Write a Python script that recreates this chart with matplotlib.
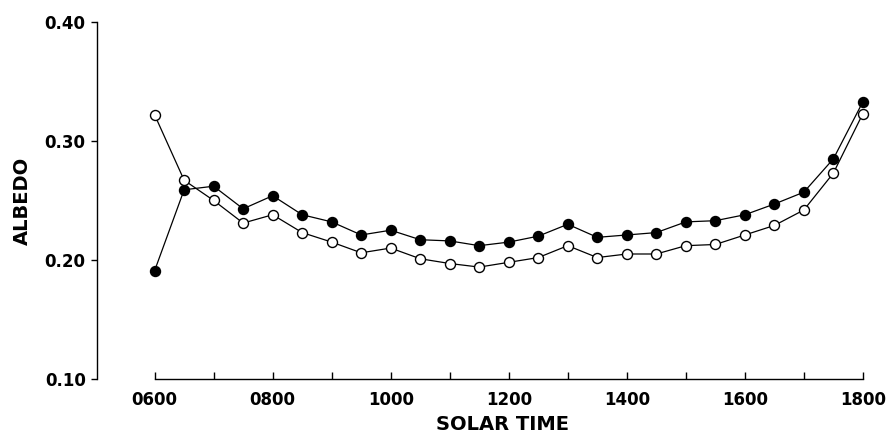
import matplotlib.pyplot as plt
import numpy as np
from matplotlib.ticker import FixedLocator, FuncFormatter

# half-hourly readings (decimal hours written as hhmm-like numbers)
solar_time = [600, 650, 700, 750, 800, 850, 900, 950, 1000, 1050, 1100, 1150, 1200,
              1250, 1300, 1350, 1400, 1450, 1500, 1550, 1600, 1650, 1700, 1750, 1800]
albedo_filled = [0.191, 0.259, 0.262, 0.243, 0.254, 0.238, 0.232, 0.221, 0.225,
                 0.217, 0.216, 0.212, 0.215, 0.220, 0.230, 0.219, 0.221, 0.223,
                 0.232, 0.233, 0.238, 0.247, 0.257, 0.285, 0.333]
albedo_open = [0.322, 0.267, 0.250, 0.231, 0.238, 0.223, 0.215, 0.206, 0.210,
               0.201, 0.197, 0.194, 0.198, 0.202, 0.212, 0.202, 0.205, 0.205,
               0.212, 0.213, 0.221, 0.229, 0.242, 0.273, 0.323]
y_ticks = [0.10, 0.20, 0.30, 0.40]
x_major = [600, 800, 1000, 1200, 1400, 1600, 1800]
x_minor = [700, 900, 1100, 1300, 1500, 1700]

plt.rcParams["font.family"] = ["DejaVu Sans"]
plt.rcParams["font.weight"] = "bold"

fig = plt.figure(figsize=(8.88, 4.33), dpi=100)
ax = fig.add_axes([0.109, 0.125, 0.876, 0.824])

ax.plot(solar_time, albedo_filled, "-o", color="black", lw=0.9,
        markersize=7.2, markerfacecolor="black", markeredgecolor="black")
ax.plot(solar_time, albedo_open, "-o", color="black", lw=0.9,
        markersize=7.2, markerfacecolor="white", markeredgecolor="black",
        markeredgewidth=1.0)

ax.set_xlim(502, 1820)
ax.set_ylim(0.10, 0.40)

for side in ["top", "right"]:
    ax.spines[side].set_visible(False)
ax.spines["left"].set_bounds(0.10, 0.40)
ax.spines["bottom"].set_bounds(600, 1800)
ax.spines["left"].set_linewidth(1.0)
ax.spines["bottom"].set_linewidth(1.0)

ax.set_yticks(y_ticks)
ax.set_yticklabels(["%.2f" % v for v in y_ticks])
ax.tick_params(axis="y", direction="out", length=4, width=1, pad=4,
               labelsize=12)

ax.xaxis.set_major_locator(FixedLocator(x_major))
ax.xaxis.set_minor_locator(FixedLocator(x_minor))
ax.xaxis.set_major_formatter(FuncFormatter(lambda v, p: "%04d" % v))
ax.tick_params(axis="x", which="both", direction="in", length=5, width=1,
               pad=9, labelsize=12)

ax.set_ylabel("ALBEDO", fontsize=14, fontweight="bold")
ax.yaxis.set_label_coords(-0.083, 0.5)
ax.set_xlabel("SOLAR TIME", fontsize=14, fontweight="bold")
ax.xaxis.set_label_coords(0.521, -0.101)

fig.savefig("out.png", dpi=100)
